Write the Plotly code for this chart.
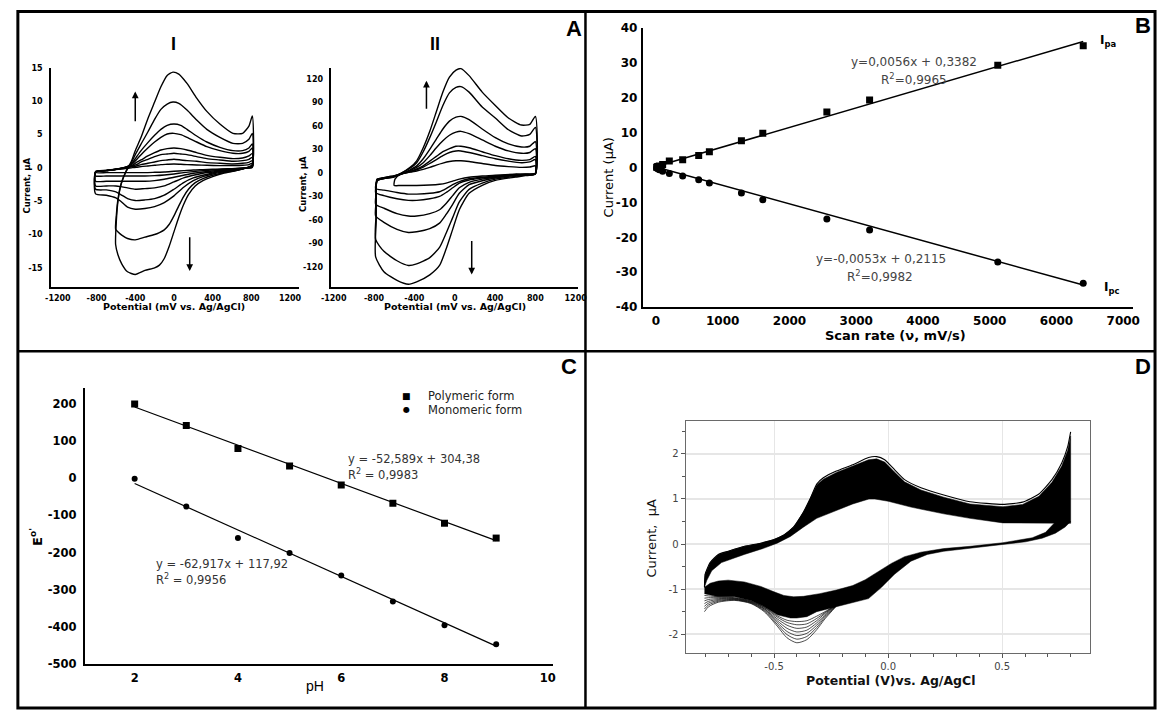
import plotly.graph_objects as go

W, H = 1166, 718

# ---------------- Panel A-I : CV curves (mV, uA) ----------------
ai_big_anodic_x = [-603, -595, -578, -545, -495, -440, -400, -340, -270, -200, -135, -70, -10, 50, 135, 235, 340, 475, 610, 710, 775, 810]
ai_big_cathodic_x = [810, 745, 640, 510, 400, 300, 220, 150, 100, 50, 0, -50, -100, -150, -200, -300, -400, -480, -540, -580, -603]
ai_c1_anodic = [-11.5, -7.8, -4.9, -2.4, -0.5, 1.0, 2.6, 4.6, 7.4, 9.9, 12.2, 13.9, 14.4, 14.1, 12.7, 10.5, 8.5, 6.6, 5.2, 5.2, 6.3, 7.8]
ai_c1_cathodic = [0.5, 0.0, -0.4, -0.8, -1.3, -1.9, -2.7, -4.0, -5.5, -7.4, -9.6, -11.8, -13.6, -14.6, -15.0, -15.4, -16.0, -15.6, -14.4, -13.0, -11.5]
ai_c2_anodic = [-9.2, -7.0, -4.6, -2.3, -0.5, 0.8, 2.0, 3.6, 5.4, 7.3, 8.8, 9.6, 9.9, 9.7, 8.7, 7.2, 5.8, 4.6, 3.7, 3.7, 4.3, 5.2]
ai_c2_cathodic = [0.4, 0.0, -0.4, -0.7, -1.1, -1.6, -2.2, -3.2, -4.3, -5.7, -7.2, -8.5, -9.3, -9.7, -10.0, -10.4, -10.8, -10.6, -10.1, -9.6, -9.2]

ai_small_anodic_x = [-810, -810, -700, -600, -500, -430, -390, -340, -270, -200, -135, -70, 0, 70, 135, 235, 340, 475, 610, 710, 775, 810]
ai_small_cathodic_x = [810, 745, 600, 500, 400, 300, 200, 100, 0, -100, -200, -300, -400, -480, -550, -600, -700, -810]
ai_small_anodic = [
    [-3.9, -0.6, -0.4, -0.2, 0.1, 0.8, 1.6, 2.6, 3.8, 4.9, 5.8, 6.4, 6.6, 6.4, 5.8, 4.8, 3.9, 3.1, 2.6, 2.6, 3.0, 3.6],
    [-3.2, -0.6, -0.4, -0.2, 0.1, 0.6, 1.2, 2.0, 3.0, 3.9, 4.6, 5.1, 5.2, 5.0, 4.6, 3.9, 3.2, 2.6, 2.2, 2.2, 2.5, 3.0],
    [-2.7, -0.6, -0.4, -0.2, 0.1, 0.4, 0.8, 1.2, 1.8, 2.3, 2.7, 2.9, 3.0, 2.9, 2.7, 2.3, 1.9, 1.6, 1.4, 1.5, 1.8, 2.2],
    [-2.0, -0.6, -0.4, -0.2, 0.1, 0.3, 0.5, 0.9, 1.3, 1.7, 2.0, 2.1, 2.2, 2.1, 2.0, 1.7, 1.4, 1.2, 1.0, 1.1, 1.3, 1.6],
    [-1.2, -0.6, -0.4, -0.25, 0.0, 0.2, 0.3, 0.5, 0.7, 0.9, 1.1, 1.2, 1.3, 1.2, 1.1, 1.0, 0.8, 0.7, 0.6, 0.7, 0.85, 1.1],
    [-0.7, -0.5, -0.35, -0.2, -0.1, 0.05, 0.1, 0.2, 0.3, 0.4, 0.5, 0.55, 0.6, 0.55, 0.5, 0.45, 0.4, 0.35, 0.35, 0.4, 0.5, 0.7],
]
ai_small_cathodic = [
    [0.3, 0.0, -0.4, -0.6, -0.9, -1.3, -1.9, -2.9, -4.2, -5.2, -5.8, -6.1, -6.2, -5.9, -5.0, -4.5, -4.1, -3.9],
    [0.25, 0.0, -0.35, -0.5, -0.75, -1.1, -1.5, -2.2, -3.2, -4.1, -4.6, -4.8, -4.9, -4.6, -4.0, -3.6, -3.3, -3.2],
    [0.2, 0.0, -0.3, -0.4, -0.6, -0.8, -1.1, -1.5, -2.1, -2.7, -3.0, -3.1, -3.2, -3.0, -2.8, -2.7, -2.7, -2.7],
    [0.15, 0.0, -0.2, -0.3, -0.45, -0.6, -0.8, -1.1, -1.4, -1.7, -1.9, -2.0, -2.0, -2.0, -2.0, -2.0, -2.0, -2.0],
    [0.1, 0.0, -0.15, -0.2, -0.3, -0.4, -0.55, -0.7, -0.9, -1.05, -1.15, -1.2, -1.2, -1.2, -1.2, -1.2, -1.2, -1.2],
    [0.05, 0.0, -0.1, -0.15, -0.2, -0.25, -0.3, -0.4, -0.5, -0.6, -0.65, -0.7, -0.7, -0.7, -0.7, -0.7, -0.7, -0.7],
]
ai_arrow_x = [-400, 163]
ai_arrow_tail_y = [6.8, -10.2]
ai_arrow_head_y = [11.5, -15.5]

# ---------------- Panel A-II ----------------
aii_anodic_x = [-784, -778, -770, -702, -605, -540, -442, -377, -312, -247, -182, -117, -52, 13, 62, 143, 273, 403, 533, 663, 745, 800]
aii_cathodic_x = [800, 700, 598, 403, 273, 143, 46, -20, -85, -150, -247, -377, -459, -572, -702, -784]
aii_anodic = [
    [-107, -60, -10, -7.5, -5.4, -1.3, 7, 15.4, 32, 53, 78, 103, 122, 131, 133, 124, 103, 86, 70, 61, 62, 72],
    [-85, -50, -10, -7, -5, -1, 6, 13, 27, 45, 65, 86, 102, 109, 110, 103, 84, 70, 55, 47, 49, 58],
    [-55, -35, -10, -7, -5, -2, 4, 9, 18, 30, 43, 56, 66, 71, 72, 68, 56, 45, 37, 33, 34, 40],
    [-40, -25, -9, -6.5, -4.5, -2, 3, 7, 13, 22, 32, 41, 48, 52, 53, 50, 42, 34, 28, 25, 26, 31],
    [-25, -15, -8, -6, -4, -1.5, 2, 5, 9, 15, 21, 27, 31, 34, 34, 32, 27, 22, 18, 16, 17, 21],
    [-20, -12, -8, -6, -4, -1.5, 1.5, 4, 7.5, 12, 17, 22, 26, 28, 28, 26, 22, 18, 15, 13, 14, 17],
]
aii_cathodic = [
    [-1.2, -3.5, -5.4, -9.6, -15.8, -26, -47, -72, -97, -118, -130, -139, -142, -137, -126, -107],
    [-1, -3, -4.5, -8, -13, -21, -37, -57, -77, -95, -108, -116, -118, -112, -100, -85],
    [-1, -2.5, -3.5, -6.5, -10, -15, -26, -40, -53, -64, -71, -75, -76, -72, -63, -55],
    [-1, -2, -3, -5.5, -8, -12, -19, -29, -39, -47, -52, -55, -55, -52, -45, -40],
    [-0.8, -1.8, -2.5, -4.5, -6.5, -9, -13, -19, -25, -30, -33, -35, -35, -33, -29, -25],
    [-0.8, -1.5, -2, -4, -5.5, -7.5, -11, -15, -20, -24, -26, -27, -27, -25, -22, -20],
]
aii_c7_anodic_x = [-600, -592, -540, -442, -377, -312, -247, -182, -117, -52, 13, 62, 143, 273, 403, 533, 663, 745, 800]
aii_c7_anodic = [-16, -8, -2, 1, 2.5, 4.5, 7, 10, 12.5, 14.5, 15.5, 15.5, 14.5, 12, 9.5, 8, 7, 7.5, 9]
aii_c7_cathodic_x = [800, 598, 403, 273, 143, 46, -20, -85, -150, -247, -377, -459, -540, -600]
aii_c7_cathodic = [-0.5, -1.5, -3, -4, -5.5, -8, -10.5, -13, -14.5, -15.5, -16, -16, -16, -16]
aii_arrow_x = [-280, 169]
aii_arrow_tail_y = [80, -85]
aii_arrow_head_y = [117.5, -129.6]

# ---------------- Panel B ----------------
scan_rate = [10, 25, 50, 100, 200, 400, 640, 800, 1280, 1600, 2560, 3200, 5120, 6400]
ipa = [0.1, 0.3, 0.5, 0.9, 1.9, 2.3, 3.5, 4.6, 7.7, 9.9, 16.0, 19.4, 29.4, 35.0]
ipc = [-0.1, -0.3, -0.6, -1.0, -1.7, -2.4, -3.5, -4.4, -7.3, -9.2, -14.7, -17.9, -27.1, -33.2]
fit_scan = [0, 6400]
fit_ipa = [0.34, 36.2]
fit_ipc = [0.21, -33.7]

# ---------------- Panel C ----------------
ph = [2, 3, 4, 5, 6, 7, 8, 9]
e_polymeric = [200, 142, 80, 33, -18, -67, -121, -161]
e_monomeric = [-1, -76, -161, -201, -262, -332, -396, -447]
fit_ph = [2, 9]
fit_polymeric = [192, -168]
fit_monomeric = [-14, -452]

# ---------------- Panel D ----------------
d_top_x = [-0.805, -0.802, -0.78, -0.744, -0.701, -0.629, -0.558, -0.5, -0.457, -0.414, -0.371, -0.342, -0.313, -0.284, -0.227, -0.155, -0.086, -0.05, -0.015, 0.028, 0.072, 0.144, 0.244, 0.359, 0.503, 0.589, 0.661, 0.718, 0.761, 0.787, 0.8]
d_top_y = [-0.96, -0.67, -0.41, -0.23, -0.16, -0.05, 0.02, 0.1, 0.2, 0.38, 0.71, 1.0, 1.33, 1.47, 1.62, 1.76, 1.92, 1.94, 1.87, 1.65, 1.43, 1.25, 1.09, 0.94, 0.88, 0.93, 1.11, 1.43, 1.8, 2.16, 2.49]
d_band_top_y = [-0.96, -0.67, -0.41, -0.23, -0.16, -0.05, 0.02, 0.1, 0.2, 0.38, 0.71, 1.0, 1.31, 1.44, 1.59, 1.73, 1.87, 1.89, 1.82, 1.60, 1.38, 1.20, 1.04, 0.89, 0.83, 0.88, 1.06, 1.37, 1.73, 2.08, 2.40]
d_upper_inner_x = [0.8, 0.747, 0.632, 0.503, 0.359, 0.244, 0.1, 0.0, -0.058, -0.084, -0.155, -0.227, -0.313, -0.37, -0.428, -0.486, -0.543, -0.63, -0.73, -0.773, -0.795, -0.805]
d_upper_inner_y = [0.46, 0.46, 0.46, 0.47, 0.57, 0.67, 0.82, 0.95, 1.0, 1.0, 0.89, 0.75, 0.57, 0.38, 0.17, 0.02, -0.09, -0.23, -0.41, -0.59, -0.81, -0.96]
d_lower_outer_x = [-0.805, -0.744, -0.672, -0.601, -0.543, -0.486, -0.428, -0.4, -0.356, -0.313, -0.227, -0.141, -0.086, -0.029, 0.028, 0.1, 0.172, 0.244, 0.359, 0.503, 0.603, 0.675, 0.733, 0.776, 0.8]
d_lower_outer_y = [-1.1, -1.17, -1.17, -1.25, -1.39, -1.57, -1.64, -1.64, -1.61, -1.5, -1.39, -1.28, -1.21, -0.96, -0.67, -0.38, -0.23, -0.16, -0.09, -0.01, 0.05, 0.13, 0.24, 0.38, 0.5]
d_lower_inner_x = [0.8, 0.733, 0.69, 0.632, 0.503, 0.359, 0.244, 0.144, 0.072, 0.014, -0.043, -0.1, -0.155, -0.227, -0.3, -0.371, -0.414, -0.457, -0.5, -0.558, -0.63, -0.701, -0.744, -0.78, -0.805]
d_lower_inner_y = [0.5, 0.49, 0.26, 0.14, 0.03, -0.05, -0.1, -0.18, -0.28, -0.43, -0.61, -0.79, -0.92, -1.02, -1.1, -1.16, -1.17, -1.14, -1.06, -0.94, -0.84, -0.8, -0.82, -0.87, -0.96]
d_fan_x = [-0.805, -0.787, -0.744, -0.672, -0.601, -0.543, -0.486, -0.443, -0.4, -0.356, -0.313, -0.277, -0.227]
d_fan_y = [
    [-1.50, -1.39, -1.29, -1.25, -1.32, -1.50, -1.82, -2.08, -2.19, -2.12, -1.90, -1.66, -1.38],
    [-1.44, -1.35, -1.27, -1.24, -1.31, -1.48, -1.78, -2.01, -2.11, -2.05, -1.85, -1.63, -1.37],
    [-1.38, -1.31, -1.25, -1.23, -1.30, -1.46, -1.74, -1.94, -2.03, -1.98, -1.80, -1.60, -1.37],
    [-1.32, -1.27, -1.23, -1.22, -1.29, -1.44, -1.70, -1.87, -1.95, -1.91, -1.75, -1.57, -1.36],
    [-1.26, -1.23, -1.21, -1.21, -1.28, -1.43, -1.66, -1.80, -1.87, -1.84, -1.70, -1.54, -1.36],
    [-1.20, -1.19, -1.19, -1.20, -1.27, -1.41, -1.62, -1.74, -1.79, -1.77, -1.65, -1.52, -1.35],
    [-1.14, -1.15, -1.17, -1.19, -1.26, -1.40, -1.59, -1.69, -1.72, -1.70, -1.60, -1.50, -1.35],
]

# tick values
ai_xticks = [-1200, -800, -400, 0, 400, 800, 1200]
ai_yticks = [-15, -10, -5, 0, 5, 10, 15]
aii_yticks = [-120, -90, -60, -30, 0, 30, 60, 90, 120]
b_xticks = [0, 1000, 2000, 3000, 4000, 5000, 6000, 7000]
b_yticks = [-40, -30, -20, -10, 0, 10, 20, 30, 40]
c_xticks = [2, 4, 6, 8, 10]
c_yticks = [-500, -400, -300, -200, -100, 0, 100, 200]
d_xticks = [-0.5, 0.0, 0.5]
d_xticktext = ["-0.5", "0.0", "0.5"]
d_yticks = [-2, -1, 0, 1, 2]

# ---------------------------------------------------------------
def fx(px):
    return px / W

def fy(py):
    return 1 - py / H

FONT = "DejaVu Sans"
fig = go.Figure()

cv_line = dict(color="black", width=1.4, shape="spline", smoothing=0.6)

# A-I
for an, ca in [(ai_c1_anodic, ai_c1_cathodic), (ai_c2_anodic, ai_c2_cathodic)]:
    fig.add_trace(go.Scatter(x=ai_big_anodic_x + ai_big_cathodic_x, y=an + ca, mode="lines",
                             line=cv_line, xaxis="x", yaxis="y", showlegend=False, hoverinfo="skip"))
for an, ca in zip(ai_small_anodic, ai_small_cathodic):
    fig.add_trace(go.Scatter(x=ai_small_anodic_x + ai_small_cathodic_x, y=an + ca, mode="lines",
                             line=cv_line, xaxis="x", yaxis="y", showlegend=False, hoverinfo="skip"))
# A-II
for an, ca in zip(aii_anodic, aii_cathodic):
    fig.add_trace(go.Scatter(x=aii_anodic_x + aii_cathodic_x, y=an + ca, mode="lines",
                             line=cv_line, xaxis="x2", yaxis="y2", showlegend=False, hoverinfo="skip"))
fig.add_trace(go.Scatter(x=aii_c7_anodic_x + aii_c7_cathodic_x, y=aii_c7_anodic + aii_c7_cathodic, mode="lines",
                         line=cv_line, xaxis="x2", yaxis="y2", showlegend=False, hoverinfo="skip"))

# B
fig.add_trace(go.Scatter(x=fit_scan, y=fit_ipa, mode="lines", line=dict(color="black", width=1.5),
                         xaxis="x3", yaxis="y3", showlegend=False))
fig.add_trace(go.Scatter(x=fit_scan, y=fit_ipc, mode="lines", line=dict(color="black", width=1.5),
                         xaxis="x3", yaxis="y3", showlegend=False))
fig.add_trace(go.Scatter(x=scan_rate, y=ipa, mode="markers", marker=dict(symbol="square", size=7, color="black"),
                         xaxis="x3", yaxis="y3", showlegend=False))
fig.add_trace(go.Scatter(x=scan_rate, y=ipc, mode="markers", marker=dict(symbol="circle", size=7, color="black"),
                         xaxis="x3", yaxis="y3", showlegend=False))

# C
fig.add_trace(go.Scatter(x=fit_ph, y=fit_polymeric, mode="lines", line=dict(color="black", width=1.2),
                         xaxis="x4", yaxis="y4", showlegend=False))
fig.add_trace(go.Scatter(x=fit_ph, y=fit_monomeric, mode="lines", line=dict(color="black", width=1.2),
                         xaxis="x4", yaxis="y4", showlegend=False))
fig.add_trace(go.Scatter(x=ph, y=e_polymeric, mode="markers", marker=dict(symbol="square", size=7, color="black"),
                         xaxis="x4", yaxis="y4", showlegend=False, name="Polymeric form"))
fig.add_trace(go.Scatter(x=ph, y=e_monomeric, mode="markers", marker=dict(symbol="circle", size=6, color="black"),
                         xaxis="x4", yaxis="y4", showlegend=False, name="Monomeric form"))

# D
fig.add_trace(go.Scatter(x=d_top_x + d_upper_inner_x, y=d_band_top_y + d_upper_inner_y, mode="lines",
                         fill="toself", fillcolor="black", line=dict(color="black", width=0.5),
                         xaxis="x5", yaxis="y5", showlegend=False, hoverinfo="skip"))
fig.add_trace(go.Scatter(x=d_lower_outer_x + d_lower_inner_x, y=d_lower_outer_y + d_lower_inner_y, mode="lines",
                         fill="toself", fillcolor="black", line=dict(color="black", width=0.5),
                         xaxis="x5", yaxis="y5", showlegend=False, hoverinfo="skip"))
fig.add_trace(go.Scatter(x=d_top_x, y=d_top_y, mode="lines", line=dict(color="black", width=1.1, shape="spline", smoothing=0.5),
                         xaxis="x5", yaxis="y5", showlegend=False, hoverinfo="skip"))
for fy_ in d_fan_y:
    fig.add_trace(go.Scatter(x=d_fan_x, y=fy_, mode="lines", line=dict(color="black", width=0.7, shape="spline", smoothing=0.7),
                             xaxis="x5", yaxis="y5", showlegend=False, hoverinfo="skip"))

# ---------------- axes ----------------
def plain_axis(domain, rng, tickvals, ticktext, size, anchor, standoff, lw=1.5):
    return dict(domain=domain, range=rng, tickmode="array", tickvals=tickvals, ticktext=ticktext,
                showline=True, linecolor="black", linewidth=lw, showgrid=False, zeroline=False,
                ticks="", ticklabelstandoff=standoff,
                tickfont=dict(family=FONT, size=size, color="black", weight="bold"), anchor=anchor, fixedrange=True)

layout = dict(
    width=W, height=H, margin=dict(l=0, r=0, t=0, b=0),
    paper_bgcolor="white", plot_bgcolor="rgba(0,0,0,0)",
    showlegend=False,
    xaxis=plain_axis([fx(41.7), fx(293.3)], [-1271, 1288], ai_xticks, [str(v) for v in ai_xticks], 8, "y", 2),
    yaxis=plain_axis([fy(286), fy(62)], [-17.95, 15.05], ai_yticks, [str(v) for v in ai_yticks], 8, "x", 5),
    xaxis2=plain_axis([fx(326.7), fx(577.7)], [-1223, 1226], ai_xticks, [str(v) for v in ai_xticks], 8, "y2", 2),
    yaxis2=plain_axis([fy(286), fy(62)], [-146, 134], aii_yticks, [str(v) for v in aii_yticks], 8, "x2", 5),
    xaxis3=plain_axis([fx(643.3), fx(1141.7)], [-197, 7147], b_xticks, [str(v) for v in b_xticks], 12, "y3", 2, 2),
    yaxis3=plain_axis([fy(306), fy(21.7)], [-40, 40], b_yticks, [str(v) for v in b_yticks], 12, "x3", 1, 2),
    xaxis4=plain_axis([fx(76), fx(551.7)], [1.034, 10.095], c_xticks, [str(v) for v in c_xticks], 11.5, "y4", 2, 2),
    yaxis4=plain_axis([fy(670), fy(388.3)], [-500, 244], c_yticks, [str(v) for v in c_yticks], 11.5, "x4", 4, 2),
)
layout["xaxis5"] = dict(domain=[fx(686.7), fx(1097.7)], range=[-0.888, 0.884], tickmode="array",
                        tickvals=d_xticks, ticktext=d_xticktext, showline=True, mirror=True, linecolor="#6a6a6a",
                        linewidth=1, showgrid=True, gridcolor="#e6e6e6", gridwidth=1, zeroline=False,
                        ticks="outside", ticklen=4, tickcolor="#555", tickwidth=1,
                        minor=dict(tickmode="linear", tick0=0, dtick=0.1, ticks="outside", ticklen=3,
                                   tickcolor="#555", showgrid=False),
                        tickfont=dict(family=FONT, size=10, color="#444"), anchor="y5", fixedrange=True)
layout["yaxis5"] = dict(domain=[fy(659), fy(422.7)], range=[-2.42, 2.72], tickmode="array",
                        tickvals=d_yticks, ticktext=[str(v) for v in d_yticks], showline=True, mirror=True,
                        linecolor="#6a6a6a", linewidth=1, showgrid=True, gridcolor="#e6e6e6", gridwidth=1.5,
                        zeroline=False, ticks="outside", ticklen=4, tickcolor="#555", tickwidth=1,
                        minor=dict(tickmode="linear", tick0=0, dtick=0.5, ticks="outside", ticklen=3,
                                   tickcolor="#555", showgrid=False),
                        tickfont=dict(family=FONT, size=10, color="#444"), anchor="x5", fixedrange=True)

# ---------------- annotations ----------------
ann = []

def text(t, px, py, size, bold=False, color="black", xanchor="center", angle=0, family=FONT):
    ann.append(dict(text=t, x=fx(px), y=fy(py), xref="paper", yref="paper", showarrow=False,
                    xanchor=xanchor, yanchor="middle", textangle=angle,
                    font=dict(family=family, size=size, color=color, weight="bold" if bold else "normal")))

ARIAL = "Liberation Sans, Arial"
# panel letters
text("A", 573, 22, 22, True, family=ARIAL)
text("B", 1151.7, 19, 22, True, family=ARIAL)
text("C", 568.3, 367, 22, True, family=ARIAL)
text("D", 1151.7, 367, 22, True, family=ARIAL)
# panel A
text("I", 166, 38, 18, True, family=ARIAL)
text("II", 431.7, 38, 18, True, family=ARIAL)
text("Current, µA", 17.3, 182, 8.5, True, angle=-90)
text("Current, µA", 298.3, 180, 8.5, True, angle=-90)
text("Potential (mV vs. Ag/AgCl)", 166.7, 305, 9.5, True)
text("Potential (mV vs. Ag/AgCl)", 452.7, 305, 9.5, True)
# panel B
text("Current (µA)", 608.7, 174, 13, False, angle=-90)
text("Scan rate (ν, mV/s)", 900, 335, 13, True)
text("y=0,0056x + 0,3382", 919, 56, 12, False, "#444")
text("R<sup>2</sup>=0,9965", 919, 73, 12, False, "#444")
text("y=-0,0053x + 0,2115", 885, 257, 12, False, "#444")
text("R<sup>2</sup>=0,9982", 884, 274, 12, False, "#444")
text("I<sub>pa</sub>", 1106, 35, 12, True, xanchor="left")
text("I<sub>pc</sub>", 1110, 287, 12, True, xanchor="left")
# panel C
text("E<sup>o'</sup>", 27, 541, 13, True, angle=-90)
text("pH", 310, 693, 14, False, family=ARIAL)
text("■", 403.3, 396.7, 9, False)
text("●", 403.3, 411, 8, False)
text("Polymeric form", 423.3, 396.7, 11.5, False, "#222", xanchor="left")
text("Monomeric form", 423.3, 411, 11.5, False, "#222", xanchor="left")
text("y = -52,589x + 304,38", 341.7, 461, 11.5, False, "#333", xanchor="left")
text("R<sup>2</sup> = 0,9983", 341.7, 477, 11.5, False, "#333", xanchor="left")
text("y = -62,917x + 117,92", 146.7, 568, 11.5, False, "#333", xanchor="left")
text("R<sup>2</sup> = 0,9956", 146.7, 584, 11.5, False, "#333", xanchor="left")
# panel D
text("Current,  µA", 651.7, 542, 13, False, "#111", angle=-90)
text("Potential (V)vs. Ag/AgCl", 896, 687, 12.5, True, "#111")

# arrows in panel A
for xs, ys0, ys1, xr, yr in [(ai_arrow_x, ai_arrow_tail_y, ai_arrow_head_y, "x", "y"),
                             (aii_arrow_x, aii_arrow_tail_y, aii_arrow_head_y, "x2", "y2")]:
    for xv, y0, y1 in zip(xs, ys0, ys1):
        ann.append(dict(x=xv, y=y1, ax=xv, ay=y0, xref=xr, yref=yr, axref=xr, ayref=yr, text="",
                        showarrow=True, arrowhead=2, arrowsize=0.9, arrowwidth=1.5, arrowcolor="black"))

layout["annotations"] = ann

# ---------------- panel borders ----------------
layout["shapes"] = [
    dict(type="rect", xref="paper", yref="paper", x0=fx(8), x1=fx(1164), y0=fy(715), y1=fy(4.5),
         line=dict(color="black", width=3)),
    dict(type="line", xref="paper", yref="paper", x0=fx(585), x1=fx(585), y0=fy(715), y1=fy(4.5),
         line=dict(color="black", width=2.5)),
    dict(type="line", xref="paper", yref="paper", x0=fx(8), x1=fx(1164), y0=fy(351), y1=fy(351),
         line=dict(color="black", width=2.5)),
]

fig.update_layout(**layout)
fig.write_html("out.html")
